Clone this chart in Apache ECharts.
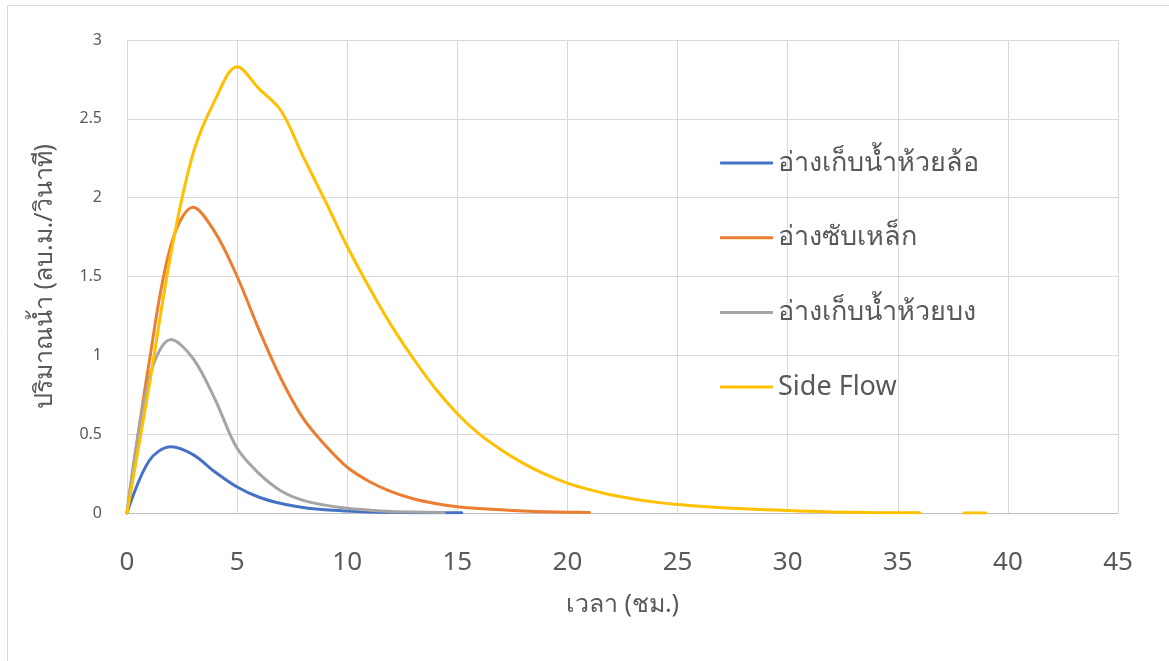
<!DOCTYPE html>
<html>
<head>
<meta charset="utf-8">
<script src="https://cdn.jsdelivr.net/npm/echarts@6/dist/echarts.min.js"></script>
<style>
html,body{margin:0;padding:0;background:#fff;}
#chart{width:1169px;height:661px;}
</style>
</head>
<body>
<div id="chart"></div>
<script>
// ---- data ----
const seriesNames = ['อ่างเก็บน้ำห้วยล้อ', 'อ่างซับเหล็ก', 'อ่างเก็บน้ำห้วยบง', 'Side Flow'];
const xAxisTitle = 'เวลา (ชม.)';
const yAxisTitle = 'ปริมาณน้ำ (ลบ.ม./วินาที)';

const hoursHuaiLo = [0,1,2,3,4,5,6,7,8,9,10,11,12,13,14,15.2];
const flowHuaiLo  = [0,0.33,0.42,0.37,0.26,0.165,0.1,0.06,0.035,0.02,0.012,0.007,0.004,0.002,0.001,0.001];

const hoursSapLek = [0,1,2,3,4,5,6,7,8,9,10,11,12,13,14,15,16,17,18,19,20,21];
const flowSapLek  = [0,0.95,1.7,1.94,1.78,1.5,1.16,0.85,0.6,0.43,0.29,0.2,0.135,0.09,0.06,0.04,0.028,0.02,0.013,0.008,0.005,0.003];

const hoursHuaiBong = [0,1,2,3,4,5,6,7,8,9,10,11,12,13,14.4];
const flowHuaiBong  = [0,0.85,1.1,0.98,0.72,0.41,0.25,0.14,0.08,0.05,0.03,0.018,0.01,0.006,0.003];

const hoursSide = [0,1,2,3,4,5,6,7,8,9,10,11,12,13,14,15,16,17,18,19,20,21,22,23,24,25,26,27,28,29,30,31,32,33,34,35,36,37,38,39];
const flowSide  = [0,0.8,1.65,2.28,2.62,2.83,2.69,2.55,2.26,1.98,1.69,1.43,1.19,0.98,0.79,0.63,0.5,0.4,0.315,0.245,0.19,0.148,0.114,0.089,0.069,0.054,0.043,0.034,0.027,0.021,0.016,0.011,0.007,0.004,0.002,0.001,0.001,null,0,0];

const xTicks = {min:0, max:45, interval:5};
const yTicks = {min:0, max:3, interval:0.5};

const colors = ['#4472c4', '#ed7d31', '#a5a5a5', '#ffc000'];

function pairs(xs, ys){ return xs.map((x,i)=>[x, ys[i]]); }
const seriesData = [
  pairs(hoursHuaiLo, flowHuaiLo),
  pairs(hoursSapLek, flowSapLek),
  pairs(hoursHuaiBong, flowHuaiBong),
  pairs(hoursSide, flowSide)
];

const FONT = '"Noto Sans", "Open Sans", sans-serif';
const chart = echarts.init(document.getElementById('chart'));
chart.setOption({
  animation: false,
  backgroundColor: '#fff',
  textStyle: {fontFamily: FONT},
  graphic: [{
    type: 'rect', silent: true,
    shape: {x: 7.5, y: 5.5, width: 1300, height: 800},
    style: {fill: 'none', stroke: '#d9d9d9', lineWidth: 1}
  }],
  grid: {left: 127, right: 51, top: 40, bottom: 148, containLabel: false},
  legend: {
    orient: 'vertical', left: 715, top: 143,
    itemWidth: 53, itemHeight: 3, itemGap: 44.7,
    icon: 'roundRect',
    textStyle: {fontSize: 27, color: '#595959', fontFamily: FONT, lineHeight: 30},
    data: seriesNames
  },
  xAxis: {
    type: 'value', min: xTicks.min, max: xTicks.max, interval: xTicks.interval,
    name: xAxisTitle, nameLocation: 'middle', nameGap: 79,
    nameTextStyle: {fontSize: 25, color: '#595959'},
    axisLine: {show: true, lineStyle: {color: '#bfbfbf', width: 1}},
    axisTick: {show: false},
    axisLabel: {fontSize: 26, color: '#595959', margin: 37},
    splitLine: {show: true, lineStyle: {color: '#d9d9d9', width: 1}}
  },
  yAxis: {
    type: 'value', min: yTicks.min, max: yTicks.max, interval: yTicks.interval,
    name: yAxisTitle, nameLocation: 'middle', nameGap: 70, nameRotate: 90,
    nameTextStyle: {fontSize: 25, color: '#595959'},
    axisLine: {show: false},
    axisTick: {show: false},
    axisLabel: {fontSize: 16, color: '#595959', margin: 25},
    splitLine: {show: true, lineStyle: {color: '#d9d9d9', width: 1}}
  },
  series: seriesNames.map((n, i) => ({
    name: n, type: 'line', data: seriesData[i],
    smooth: 0.35, showSymbol: false, symbol: 'none',
    connectNulls: false,
    lineStyle: {color: colors[i], width: 3, cap: 'round', join: 'round'},
    itemStyle: {color: colors[i]}
  }))
});
</script>
</body>
</html>
